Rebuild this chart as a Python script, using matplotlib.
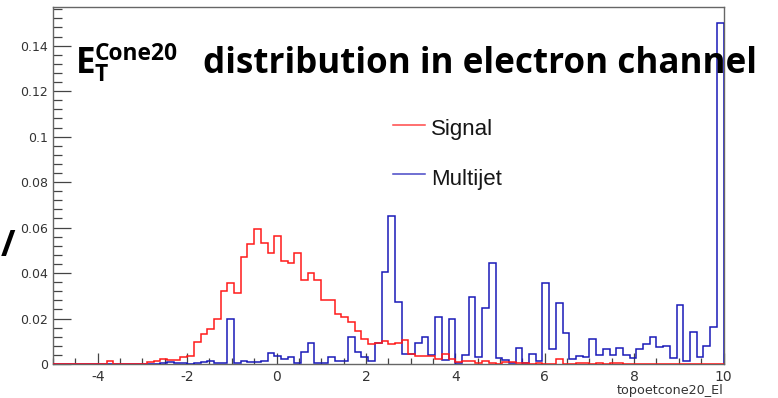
import numpy as np
import matplotlib
matplotlib.use("Agg")
import matplotlib.pyplot as plt
from matplotlib.ticker import MultipleLocator, FuncFormatter

# Histogram binning of topoetcone20_El
x_min, x_max, n_bins = -5.0, 10.0, 100

# Normalised bin contents (100 bins each)
signal = [
    0, 0, 0, 0, 0, 0, 0, 0, 0.0015, 0,
    0, 0, 0, 0, 0.0008, 0.0015, 0.0022, 0.0018, 0.0018, 0.0032,
    0.0035, 0.0095, 0.0130, 0.0155, 0.0198, 0.0322, 0.0357, 0.0313, 0.0469, 0.0526,
    0.0594, 0.0533, 0.0488, 0.0562, 0.0452, 0.0442, 0.0486, 0.0369, 0.0400, 0.0369,
    0.0281, 0.0281, 0.0218, 0.0208, 0.0183, 0.0146, 0.0110, 0.0087, 0.0093, 0.0100,
    0.0090, 0.0092, 0.0106, 0.0045, 0.0037, 0.0037, 0.0037, 0.0023, 0.0046, 0.0021,
    0.0010, 0.0012, 0.0012, 0.0006, 0.0015, 0.0005, 0, 0.0008, 0.0008, 0.0003,
    0.0003, 0, 0.0003, 0, 0, 0.0020, 0, 0, 0.0005, 0.0003,
    0, 0.0003, 0, 0.0005, 0.0003, 0, 0, 0, 0, 0,
    0, 0, 0, 0, 0, 0, 0, 0, 0, 0,
]

multijet = [
    0, 0, 0, 0, 0, 0, 0, 0, 0, 0,
    0, 0, 0, 0, 0, 0, 0.0003, 0.0010, 0.0003, 0.0003,
    0, 0.0003, 0.0010, 0.0013, 0.0005, 0.0005, 0.0197, 0.0003, 0.0013, 0.0010,
    0.0010, 0.0015, 0.0050, 0.0037, 0.0022, 0.0032, 0.0003, 0.0054, 0.0094, 0.0005,
    0.0003, 0.0032, 0.0013, 0.0013, 0.0120, 0.0054, 0.0032, 0.0015, 0.0092, 0.0403,
    0.0650, 0.0272, 0.0045, 0.0045, 0.0091, 0.0120, 0.0040, 0.0205, 0.0018, 0.0196,
    0.0006, 0.0040, 0.0296, 0.0030, 0.0245, 0.0442, 0.0025, 0.0018, 0.0003, 0.0069,
    0.0004, 0.0044, 0.0015, 0.0357, 0.0065, 0.0267, 0.0138, 0.0020, 0.0035, 0.0032,
    0.0108, 0.0040, 0.0065, 0.0040, 0.0069, 0.0040, 0.0025, 0.0065, 0.0088, 0.0117,
    0.0073, 0.0080, 0.0025, 0.0259, 0.0015, 0.0142, 0.0029, 0.0079, 0.0164, 0.1500,
]

series_labels = ["Signal", "Multijet"]
x_title = "topoetcone20_El"
y_max = 0.157

plt.rcParams["axes.unicode_minus"] = False

W, H, DPI = 778, 398, 100
fig = plt.figure(figsize=(W / DPI, H / DPI), dpi=DPI)
ax = fig.add_axes([53 / W, 1 - 364 / H, (723.5 - 53) / W, (364 - 7) / H])

edges = np.linspace(x_min, x_max, n_bins + 1)
red = "#ff1a1a"
blue = "#1a1ab8"
ax.stairs(multijet, edges, color=blue, lw=1.1, zorder=3)
ax.stairs(signal, edges, color=red, lw=1.1, zorder=4)

ax.set_xlim(x_min, x_max)
ax.set_ylim(0, y_max)

frame_col = "#666666"
for s in ax.spines.values():
    s.set_color(frame_col)
    s.set_linewidth(1.0)

ax.xaxis.set_major_locator(MultipleLocator(2))
ax.xaxis.set_minor_locator(MultipleLocator(0.5))
ax.yaxis.set_major_locator(MultipleLocator(0.02))
ax.yaxis.set_minor_locator(MultipleLocator(0.004))
ax.yaxis.set_major_formatter(FuncFormatter(lambda v, p: f"{v:g}"))
ax.xaxis.set_major_formatter(FuncFormatter(lambda v, p: f"{v:g}"))

tick_col = "#333333"
label_family = "DejaVu Sans"
ax.tick_params(axis="x", which="major", direction="in", length=8, width=0.9,
               color="#444444", labelsize=10, labelcolor=tick_col, pad=4.5)
ax.tick_params(axis="x", which="minor", direction="in", length=4, width=0.9,
               color="#444444")
ax.tick_params(axis="y", which="major", direction="in", length=13, width=0.9,
               color="#444444", labelsize=9, labelcolor=tick_col, pad=3.5)
ax.tick_params(axis="y", which="minor", direction="in", length=6.5, width=0.9,
               color="#444444")
for lab in ax.get_xticklabels() + ax.get_yticklabels():
    lab.set_family(label_family)

# x-axis title, ROOT style at the right end
fig.text(723 / W, 1 - 397 / H, x_title, ha="right", va="bottom",
         fontsize=9.2, color=tick_col, family=label_family)

# legend entries: (label, colour, line y, text baseline y) in pixels from top
legend_rows = [(series_labels[0], red, 125, 135.5),
               (series_labels[1], blue, 174, 185)]
for label, col, yl, yb in legend_rows:
    fig.add_artist(plt.Line2D([393 / W, 425 / W], [1 - yl / H, 1 - yl / H],
                              color=col, lw=1.1, alpha=0.8))
    fig.text(431 / W, 1 - yb / H, label, ha="left", va="baseline",
             fontsize=16, color="#161616", family="Liberation Sans")

# heading with sub/superscript built from separate text pieces
fig.canvas.draw()
renderer = fig.canvas.get_renderer()
title_font = dict(family="Open Sans", weight="bold", color="black")


def fitted_size(txt, width_px):
    probe = fig.text(0, 0, txt, fontsize=10, **title_font)
    w10 = probe.get_window_extent(renderer).width
    probe.remove()
    return 10 * width_px / w10


main_txt = "distribution in electron channel"
fs = fitted_size(main_txt, 759 - 203)
fs_script = fitted_size("Cone20", 83)

e_txt = fig.text(76 / W, 1 - 73 / H, "E", fontsize=fs, ha="left", va="baseline",
                 **title_font)
e_right = e_txt.get_window_extent(renderer).x1
fig.text((e_right - 1) / W, 1 - 81 / H, "T", fontsize=fs_script,
         ha="left", va="baseline", **title_font)
fig.text((e_right - 0.5) / W, 1 - 60 / H, "Cone20", fontsize=fs_script,
         ha="left", va="baseline", **title_font)
fig.text(203 / W, 1 - 73 / H, main_txt, fontsize=fs, ha="left", va="baseline",
         **title_font)

# glyph at the left border
fig.text(0.5 / W, 1 - 247 / H, "/", fontsize=fs, ha="left", va="center",
         **title_font)

fig.savefig("out.png", dpi=DPI)
